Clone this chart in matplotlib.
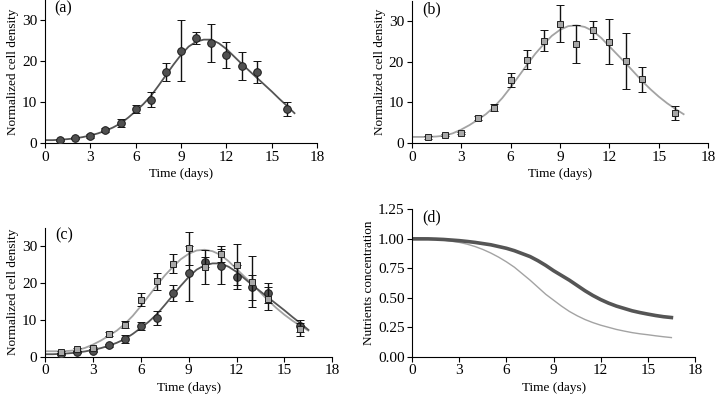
import numpy as np
import matplotlib
matplotlib.use("Agg")
import matplotlib.pyplot as plt

plt.rcParams['font.family'] = ['Liberation Serif', 'DejaVu Serif']
plt.rcParams['font.size'] = 9.5

# measured points (days)
days = [1, 2, 3, 4, 5, 6, 7, 8, 9, 10, 11, 12, 13, 14, 16]

# series 1 (circles, dark)
dens_a = [0.8, 1.2, 1.7, 3.1, 4.8, 8.3, 10.6, 17.3, 22.6, 25.7, 24.5, 21.6, 18.8, 17.3, 8.3]
err_a = [0.3, 0.3, 0.4, 0.5, 1.0, 1.0, 1.9, 2.2, 7.4, 1.4, 4.7, 3.2, 3.4, 2.7, 1.7]

# series 2 (squares, light)
dens_b = [1.4, 2.0, 2.4, 6.1, 8.7, 15.5, 20.5, 25.2, 29.4, 24.4, 27.8, 25.0, 20.3, 15.7, 7.4]
err_b = [0.3, 0.3, 0.3, 0.5, 0.9, 1.7, 2.3, 2.6, 4.5, 4.6, 2.2, 5.6, 6.9, 3.1, 1.7]

# model curves
t_fit = [0, 0.5, 1, 1.5, 2, 2.5, 3, 3.5, 4, 4.5, 5, 5.5, 6, 6.5, 7, 7.5, 8, 8.5,
         9, 9.5, 10, 10.5, 11, 11.5, 12, 12.5, 13, 13.5, 14, 14.5, 15, 15.5, 16, 16.5]
fit_a = [0.7, 0.7, 0.8, 0.95, 1.15, 1.45, 1.85, 2.35, 3.0, 3.8, 4.8, 6.2, 7.8, 9.5,
         11.5, 14.0, 16.6, 19.2, 21.6, 23.6, 24.8, 25.3, 25.3, 24.4, 23.0, 21.2,
         19.4, 17.7, 16.0, 14.3, 12.6, 10.8, 9.1, 7.3]
fit_b = [1.5, 1.5, 1.5, 1.6, 1.8, 2.4, 3.3, 4.4, 5.7, 7.1, 8.9, 11.1, 13.7, 16.5,
         19.3, 22.0, 24.3, 26.4, 27.9, 28.8, 29.0, 28.6, 27.6, 25.9, 23.8, 21.7,
         19.6, 17.4, 15.2, 13.2, 11.4, 9.8, 8.4, 7.1]
nut_a = [1.0, 1.0, 1.0, 0.998, 0.995, 0.99, 0.985, 0.978, 0.97, 0.96, 0.95, 0.935,
         0.92, 0.9, 0.875, 0.85, 0.815, 0.775, 0.73, 0.69, 0.65, 0.605, 0.56, 0.52,
         0.485, 0.455, 0.43, 0.41, 0.39, 0.375, 0.362, 0.35, 0.34, 0.333]
nut_b = [1.01, 1.01, 1.005, 1.0, 0.99, 0.98, 0.97, 0.955, 0.935, 0.91, 0.88, 0.845,
         0.805, 0.76, 0.705, 0.65, 0.59, 0.53, 0.48, 0.43, 0.385, 0.348, 0.316,
         0.29, 0.268, 0.25, 0.232, 0.218, 0.205, 0.195, 0.187, 0.178, 0.17, 0.163]

dark = '#555555'
light = '#a3a3a3'

fig = plt.figure(figsize=(7.2, 4.0), dpi=100)
ax_a = fig.add_axes([0.0625, 0.6425, 0.378, 0.3575])
ax_b = fig.add_axes([0.5718, 0.6425, 0.412, 0.355])
ax_c = fig.add_axes([0.0625, 0.108, 0.399, 0.323])
ax_d = fig.add_axes([0.5726, 0.108, 0.3926, 0.3685])


def style(ax, letter, ylabel):
    for s in ['top', 'right']:
        ax.spines[s].set_visible(False)
    ax.spines['left'].set_linewidth(0.8)
    ax.spines['bottom'].set_linewidth(0.8)
    ax.tick_params(direction='out', length=3.5, width=0.8, pad=2, labelsize=11)
    ax.set_xlim(0, 18)
    ax.set_xticks(range(0, 19, 3))
    ax.set_xlabel('Time (days)', labelpad=3)
    ax.set_ylabel(ylabel, labelpad=2)
    ax.text(0.035, 1.0, letter, transform=ax.transAxes, va='top', ha='left', fontsize=11.5)


def circles(ax):
    ax.errorbar(days, dens_a, yerr=err_a, fmt='o', ms=5.5, mfc='#505050', mec='#1a1a1a',
                mew=0.7, ecolor='#111111', elinewidth=1.0, capsize=3.2, capthick=1.0, zorder=3)


def squares(ax):
    ax.errorbar(days, dens_b, yerr=err_b, fmt='s', ms=5, mfc='#a8a8a8', mec='#222222',
                mew=0.7, ecolor='#111111', elinewidth=1.0, capsize=3.2, capthick=1.0, zorder=4)


# (a)
ax_a.plot(t_fit, fit_a, color=dark, lw=1.3, zorder=2)
circles(ax_a)
ax_a.set_ylim(0, 35)
ax_a.set_yticks([0, 10, 20, 30])
style(ax_a, '(a)', 'Normalized cell density')

# (b)
ax_b.plot(t_fit, fit_b, color=light, lw=1.3, zorder=2)
squares(ax_b)
ax_b.set_ylim(0, 35)
ax_b.set_yticks([0, 10, 20, 30])
style(ax_b, '(b)', 'Normalized cell density')

# (c)
ax_c.plot(t_fit, fit_b, color=light, lw=1.3, zorder=2)
ax_c.plot(t_fit, fit_a, color=dark, lw=1.3, zorder=2)
circles(ax_c)
squares(ax_c)
ax_c.set_ylim(0, 35)
ax_c.set_yticks([0, 10, 20, 30])
style(ax_c, '(c)', 'Normalized cell density')

# (d)
ax_d.plot(t_fit, nut_b, color=light, lw=1.0)
ax_d.plot(t_fit, nut_a, color=dark, lw=2.6)
ax_d.set_ylim(0, 1.25)
ax_d.set_yticks([0, 0.25, 0.5, 0.75, 1.0, 1.25])
ax_d.set_yticklabels(['0.00', '0.25', '0.50', '0.75', '1.00', '1.25'])
style(ax_d, '(d)', 'Nutrients concentration')

fig.savefig('out.png', dpi=100)
